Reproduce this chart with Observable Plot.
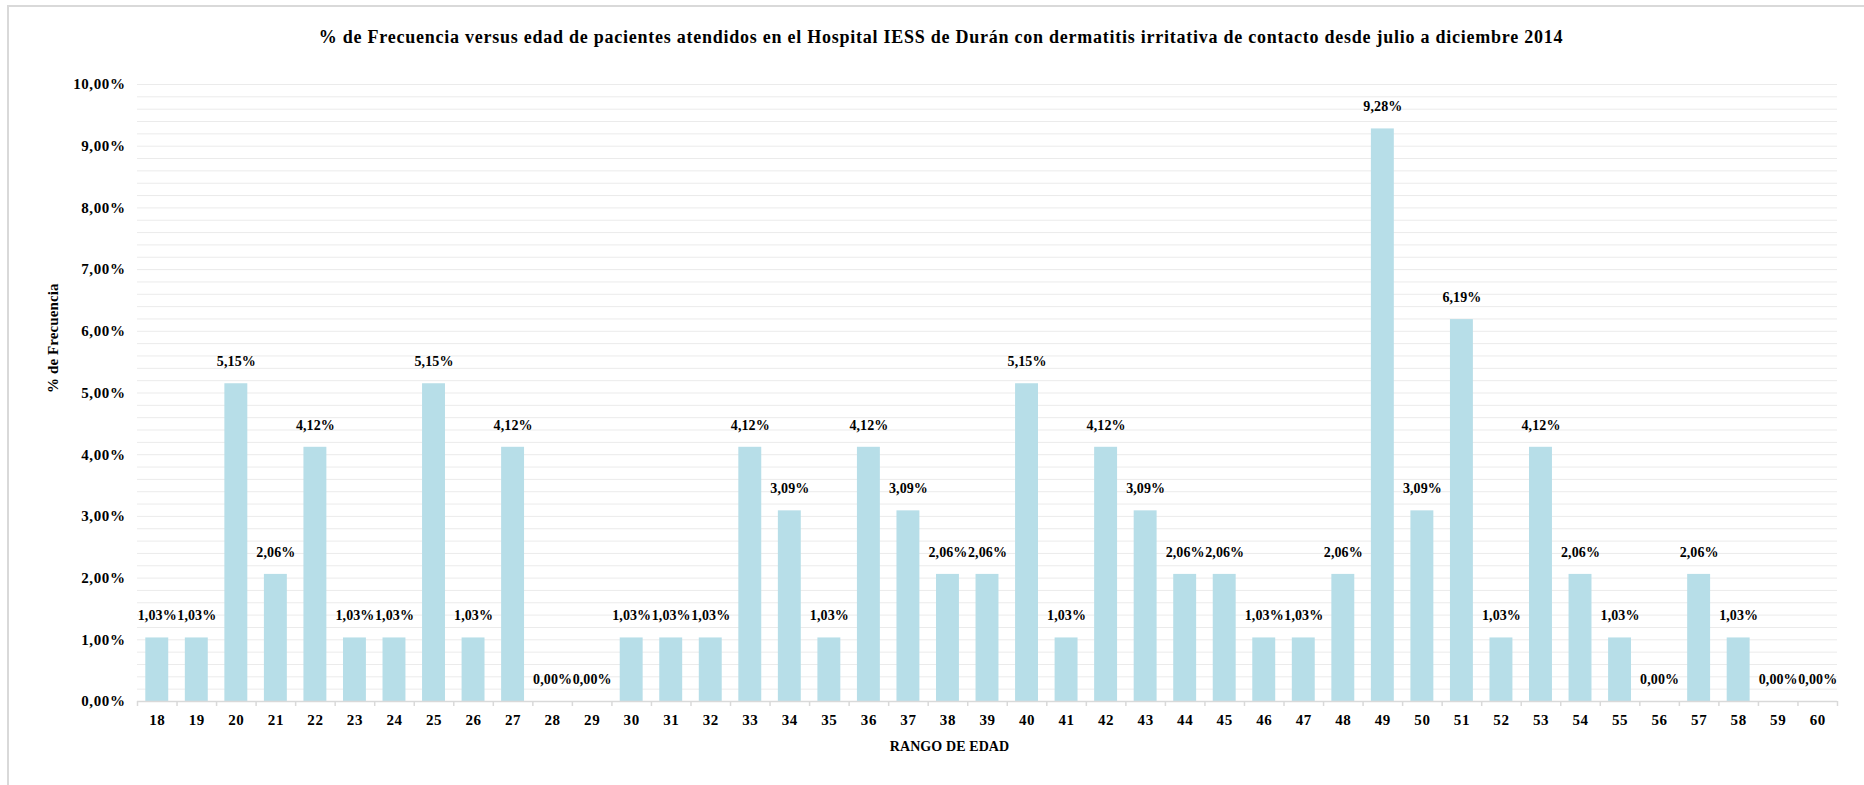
<!DOCTYPE html>
<html><head><meta charset="utf-8">
<script src="https://cdn.jsdelivr.net/npm/d3@7"></script>
<script src="https://cdn.jsdelivr.net/npm/@observablehq/plot@0.6"></script>
<style>
body{margin:0;background:#fff;}
#wrap{position:relative;width:1864px;height:785px;overflow:hidden;font-family:"Liberation Serif","Times New Roman",serif;}
#frame{position:absolute;left:7px;top:5px;width:1880px;height:800px;border:2px solid #d9d9d9;box-sizing:border-box;}
#title{position:absolute;left:0;top:27px;width:1882px;text-align:center;font-weight:bold;font-size:18px;letter-spacing:0.75px;color:#000;white-space:nowrap;}
#chart{position:absolute;left:0;top:60px;}
#chart svg g[aria-label="text"] text{letter-spacing:0.1px;}
</style></head><body>
<div id="wrap"><div id="frame"></div><div id="title"></div><div id="chart"></div></div>
<script>
const titleText = "% de Frecuencia versus edad de pacientes atendidos en el Hospital IESS de Durán con dermatitis irritativa de contacto desde julio a diciembre 2014";
const yTitle = "% de Frecuencia";
const xTitle = "RANGO DE EDAD";
const ages = [18,19,20,21,22,23,24,25,26,27,28,29,30,31,32,33,34,35,36,37,38,39,40,41,42,43,44,45,46,47,48,49,50,51,52,53,54,55,56,57,58,59,60];
const pct = [1.03,1.03,5.15,2.06,4.12,1.03,1.03,5.15,1.03,4.12,0.00,0.00,1.03,1.03,1.03,4.12,3.09,1.03,4.12,3.09,2.06,2.06,5.15,1.03,4.12,3.09,2.06,2.06,1.03,1.03,2.06,9.28,3.09,6.19,1.03,4.12,2.06,1.03,0.00,2.06,1.03,0.00,0.00];
const yTicks = [0,1,2,3,4,5,6,7,8,9,10];

document.getElementById("title").textContent = titleText;
const data = ages.map((a, i) => ({age: a, pct: pct[i]}));
const fmt = v => v.toFixed(2).replace(".", ",") + "%";

const W = 1864, H = 725, ML = 137, MR = 27, MT = 24, MB = 84;
const step = (W - ML - MR) / ages.length;
const gridTicks = d3.range(1, 51).map(k => +(k * 0.2).toFixed(1));

const chart = Plot.plot({
  width: W, height: H,
  marginLeft: ML, marginRight: MR, marginTop: MT, marginBottom: MB,
  style: {fontFamily: "'Liberation Serif','Times New Roman',serif", fontSize: "15px", color: "#000", background: "transparent", letterSpacing: "0.6px"},
  x: {type: "band", domain: ages, paddingInner: 0.42, paddingOuter: 0.21, round: false},
  y: {domain: [0, 10]},
  marks: [
    Plot.gridY({ticks: gridTicks, stroke: "#ebebeb", strokeOpacity: 1, strokeWidth: 1}),
    Plot.barY(data, {x: "age", y: "pct", fill: "#b7dee8"}),
    Plot.ruleY([0], {stroke: "#d9d9d9", strokeWidth: 1.5}),
    Plot.ruleX(ages, {x: d => d, y1: 0, y2: 0, insetBottom: -5, dx: -step / 2, stroke: "#d9d9d9", strokeWidth: 1.5}),
    Plot.ruleX(ages.slice(-1), {x: d => d, y1: 0, y2: 0, insetBottom: -5, dx: step / 2, stroke: "#d9d9d9", strokeWidth: 1.5}),
    Plot.text(data, {x: "age", y: "pct", text: d => fmt(d.pct), dy: -22, fontWeight: "bold", fontSize: 14, fill: "#000"}),
    Plot.axisY({ticks: yTicks, tickFormat: fmt, tickSize: 0, tickPadding: 12, fontWeight: "bold", fontSize: 15, label: null}),
    Plot.axisX({tickSize: 0, tickPadding: 13, fontWeight: "bold", fontSize: 15, label: null}),
    Plot.text([yTitle], {frameAnchor: "left", rotate: -90, dx: -84, fontWeight: "bold", fontSize: 15, fill: "#000"}),
    Plot.text([xTitle], {frameAnchor: "bottom", dy: 49, dx: -38, fontWeight: "bold", fontSize: 14, fill: "#000"})
  ]
});
document.getElementById("chart").appendChild(chart);
</script>
</body></html>
